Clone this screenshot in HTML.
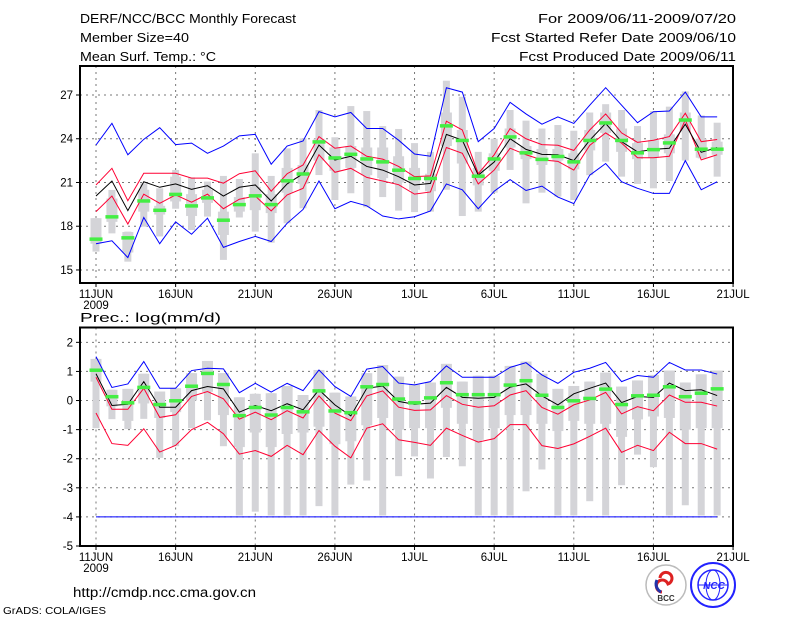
<!DOCTYPE html>
<html><head><meta charset="utf-8"><style>
html,body{margin:0;padding:0;background:#fff;}
svg{display:block;font-family:"Liberation Sans",sans-serif;}
</style></head><body>
<svg id="chart" width="800" height="618" viewBox="0 0 800 618" xmlns="http://www.w3.org/2000/svg">
<g font-size="12.5" fill="#000">
<text x="80" y="23" textLength="216" lengthAdjust="spacingAndGlyphs">DERF/NCC/BCC Monthly Forecast</text>
<text x="80" y="42" textLength="109" lengthAdjust="spacingAndGlyphs">Member Size=40</text>
<text x="80" y="61" textLength="136" lengthAdjust="spacingAndGlyphs">Mean Surf. Temp.: °C</text>
<text x="736" y="23" text-anchor="end" textLength="198" lengthAdjust="spacingAndGlyphs">For 2009/06/11-2009/07/20</text>
<text x="736" y="42" text-anchor="end" textLength="245" lengthAdjust="spacingAndGlyphs">Fcst Started Refer Date 2009/06/10</text>
<text x="736" y="61" text-anchor="end" textLength="217" lengthAdjust="spacingAndGlyphs">Fcst Produced Date 2009/06/11</text>
</g>
<g id="top"></g>
<g id="bot"></g>
<text x="80" y="322" font-size="12.5" textLength="141" lengthAdjust="spacingAndGlyphs">Prec.: log(mm/d)</text>
<text x="73" y="597" font-size="13.5" textLength="183" lengthAdjust="spacingAndGlyphs">http://cmdp.ncc.cma.gov.cn</text>
<text x="3" y="614" font-size="10" textLength="103" lengthAdjust="spacingAndGlyphs">GrADS: COLA/IGES</text>
<g>
<circle cx="666" cy="585" r="20" fill="#fff" stroke="#bbb" stroke-width="1.5"/>
<path d="M660 578 a6 6 0 1 1 8 6 a6 6 0 1 0 -6 8" fill="none" stroke="#d22" stroke-width="3"/>
<path d="M657 580 a9 9 0 0 0 4 12" fill="none" stroke="#23a" stroke-width="3"/>
<text x="666" y="601" font-size="8" text-anchor="middle" font-weight="bold" fill="#333">BCC</text>
</g>
<g>
<circle cx="713" cy="585" r="22" fill="#fff" stroke="#22f" stroke-width="2"/>
<circle cx="713" cy="585" r="15" fill="none" stroke="#22f" stroke-width="1.5"/>
<ellipse cx="713" cy="585" rx="7" ry="15" fill="none" stroke="#22f" stroke-width="1"/>
<line x1="698" y1="585" x2="728" y2="585" stroke="#22f"/>
<text x="714" y="589" font-size="10" text-anchor="middle" font-style="italic" font-weight="bold" fill="#22f">NCC</text>
</g>
</svg>
<script>
// ---- shared categories ----
const dayLabels=["11JUN","16JUN","21JUN","26JUN","1JUL","6JUL","11JUL","16JUL","21JUL"];
// ---- temperature panel data ----
const tTicks=[15,18,21,24,27];
const tBlueHi=[23.57,25.06,22.9,23.96,24.76,23.6,23.7,23,23.5,24.2,24.3,22.25,23.5,23.85,25.86,25.5,25.8,24.7,24.7,23.9,22.95,22.8,27.5,27.2,23.8,24.7,26.5,25.7,25.0,25.5,25.05,26.3,27.5,26.3,25.1,25.85,25.9,27.2,25.5,25.5];
const tBlueLo=[16.8,17.0,15.85,18.6,16.8,18.3,17.45,18.55,16.55,16.95,17.3,16.95,18.2,19.15,21.1,19.2,19.7,19.4,18.7,18.5,18.65,19.05,20.9,20.5,19.2,20.4,21.2,20.45,20.75,20.0,19.55,21.5,22.3,21.05,20.6,20.25,20.25,22.5,20.5,21.05];
const tRedHi=[20.83,21.97,19.75,21.63,21.63,21.63,21.3,21.3,20.95,21.6,21.8,20.4,21.6,22.2,24.15,23.35,23.5,22.8,22.6,22.1,21.4,21.45,25.2,24.6,21.6,22.9,24.7,24.0,23.6,23.55,23.2,24.6,25.7,24.4,23.75,23.9,24.15,25.75,23.8,23.95];
const tRedLo=[19.0,20.07,18.15,20.2,19.57,20.15,19.65,20.2,19.2,19.85,20.07,19.05,20.15,20.6,22.9,21.7,21.97,21.35,21.1,20.85,20.2,20.35,23.4,23.0,20.9,21.85,23.35,22.9,22.55,22.45,21.85,23.55,24.4,23.7,22.7,22.7,22.8,25.3,22.55,22.9];
const tMean=[20.07,21.1,19.07,21.05,20.67,20.9,20.53,20.78,20.07,20.67,20.83,19.73,20.9,21.6,23.57,22.54,22.8,22.1,21.85,21.4,20.83,20.94,24.3,23.9,21.5,22.4,24.0,23.27,22.93,22.9,22.5,23.9,25.05,23.8,23.1,23.27,23.35,25.0,23.07,23.4];
const tGreen=[17.13,18.66,17.22,19.75,19.11,20.2,19.41,19.96,18.43,19.5,20.1,19.5,21.13,21.6,23.8,22.7,22.95,22.63,22.43,21.86,21.29,21.29,24.9,23.9,21.45,22.63,24.14,23.05,22.6,22.8,22.43,23.9,25.1,23.9,23.05,23.27,23.73,25.3,23.3,23.3];
const tWhiskHi=[18.55,20.49,17.63,20.94,20.6,21.86,21.35,21.06,21.45,21.24,23.0,21.45,23.34,24.03,25.97,24.1,26.24,25.9,24.87,24.67,23.7,23.1,27.98,26.88,23.1,24.0,25.97,25.24,24.7,24.94,24.55,25.8,26.37,25.97,24.87,25.9,26.2,27.25,25.6,25.1];
const tWhiskLo=[16.26,17.51,15.57,17.97,17.3,19.2,17.74,18.66,15.69,18.6,17.63,16.87,18.2,19.23,21.51,19.8,20.26,19.3,20.0,19.07,18.97,19.0,20.5,18.7,19.0,20.3,21.86,19.57,20.3,20.03,19.8,21.5,22.43,21.4,20.9,20.6,21.1,22.5,22.65,21.4];
const tBoxHi=[18.55,19.9,17.6,20.5,19.4,21.4,20.2,20.5,19.0,20.0,20.7,20.2,22.0,22.2,24.0,23.4,23.5,23.4,23.4,22.8,22.0,21.6,25.8,24.6,22.0,23.0,24.7,23.5,23.3,23.3,23.0,24.6,25.8,24.7,23.7,23.9,24.3,25.8,24.0,23.8];
const tBoxLo=[16.8,18.3,16.2,19.0,18.8,19.7,18.7,19.6,17.4,19.0,19.1,18.9,20.3,20.9,22.5,21.8,22.0,21.5,21.3,21.0,20.5,20.4,23.5,22.3,20.8,21.8,23.4,22.6,22.2,22.5,21.9,23.2,24.4,23.1,22.6,22.7,23.0,24.5,22.7,22.9];
// ---- precipitation panel data ----
const pTicks=[-5,-4,-3,-2,-1,0,1,2];
const pBlueHi=[1.51,0.45,0.57,1.34,0.42,0.42,1.03,1.11,1.09,0.27,0.59,0.29,0.59,0.34,1.05,0.48,0.14,1.08,1.17,0.6,0.54,0.65,1.19,0.8,0.8,0.8,1.14,1.3,0.88,0.59,0.97,1.11,1.31,0.65,0.86,0.8,1.31,1.05,1.05,0.91];
const pBlueLo=[-4,-4,-4,-4,-4,-4,-4,-4,-4,-4,-4,-4,-4,-4,-4,-4,-4,-4,-4,-4,-4,-4,-4,-4,-4,-4,-4,-4,-4,-4,-4,-4,-4,-4,-4,-4,-4,-4,-4,-4];
const pRedHi=[0.8,-0.3,-0.3,0.42,-0.58,-0.49,0.14,0.31,0.06,-0.64,-0.4,-0.66,-0.35,-0.6,0.16,-0.43,-0.69,0.16,0.33,-0.23,-0.34,-0.32,0.17,-0.13,-0.23,-0.18,0.19,0.34,-0.24,-0.47,-0.15,0.02,0.28,-0.46,-0.21,-0.35,0.19,-0.06,-0.06,-0.19];
const pRedLo=[-0.43,-1.48,-1.54,-0.97,-1.77,-1.54,-1.0,-0.75,-1.14,-1.84,-1.72,-1.92,-1.54,-1.86,-1.03,-1.57,-1.97,-0.95,-0.8,-1.35,-1.44,-1.54,-0.95,-1.2,-1.43,-1.31,-0.83,-0.83,-1.55,-1.65,-1.49,-1.23,-0.95,-1.78,-1.54,-1.72,-1.09,-1.48,-1.48,-1.67];
const pMean=[0.92,-0.17,-0.13,0.65,-0.23,-0.23,0.34,0.48,0.40,-0.40,-0.17,-0.35,-0.11,-0.32,0.37,-0.15,-0.53,0.42,0.5,-0.03,-0.13,-0.09,0.45,0.11,0.08,0.11,0.46,0.57,0.16,-0.15,0.23,0.42,0.6,-0.07,0.14,0.11,0.6,0.34,0.37,0.17];
const pGreen=[1.05,0.14,-0.07,0.46,-0.13,0.0,0.5,0.94,0.56,-0.51,-0.23,-0.49,-0.23,-0.38,0.34,-0.35,-0.41,0.48,0.56,0.06,-0.07,0.1,0.62,0.21,0.21,0.21,0.54,0.69,0.19,-0.23,0.0,0.08,0.4,-0.13,0.17,0.19,0.48,0.14,0.26,0.41];
const pWhiskHi=[1.43,0.37,0.4,0.92,0.31,0.42,0.94,1.36,0.94,0.11,0.23,0.25,0.5,0.19,1.05,0.27,0.14,0.94,1.22,0.82,0.54,0.62,1.26,0.65,0.85,0.85,1.19,1.34,0.92,0.4,0.5,0.65,0.96,0.48,0.69,0.88,1.03,0.62,0.9,1.03];
const pWhiskLo=[-0.95,-0.64,-0.98,-0.63,-1.97,-1.57,-0.95,-0.68,-1.57,-3.95,-3.82,-3.95,-3.95,-3.95,-3.63,-3.95,-2.89,-2.75,-3.95,-2.6,-1.92,-2.68,-1.94,-2.26,-3.95,-3.95,-3.95,-3.12,-2.37,-3.95,-3.95,-3.46,-3.95,-2.91,-1.86,-2.29,-3.95,-3.6,-3.95,-3.95];
const pBoxHi=[1.43,0.37,0.4,0.92,0.31,0.42,0.94,1.36,0.94,0.11,0.23,0.25,0.5,0.19,1.05,0.27,0.14,0.94,1.22,0.82,0.54,0.62,1.26,0.65,0.85,0.85,1.19,1.34,0.92,0.4,0.5,0.65,0.96,0.48,0.69,0.88,1.03,0.62,0.9,1.03];
const pBoxLo=[0.65,-0.2,-0.7,-0.1,-0.6,-0.4,0,0.3,-0.5,-1.6,-1.1,-1.6,-1.15,-1.1,-0.9,-1.5,-1.4,-0.85,-0.6,-1.0,-0.95,-0.95,-0.25,-0.8,-1.35,-0.95,-0.5,-0.5,-0.8,-1.05,-0.7,-0.8,-0.8,-1.25,-0.65,-0.55,-0.6,-1.0,-0.95,-0.95];

const NS="http://www.w3.org/2000/svg";
function mk(tag,attrs,parent){const e=document.createElementNS(NS,tag);for(const k in attrs)e.setAttribute(k,attrs[k]);parent.appendChild(e);return e;}
const X0=80,X1=733,DPX=(X1-X0)/41;
const xs=d=>96+d*DPX;

function panel(g,top,bot,vTop,vBot,ticks,D){
  const ys=v=>top+(vTop-v)/(vTop-vBot)*(bot-top);
  for(let i=0;i<=8;i++){const x=xs(i*5);
    const l=mk('line',{x1:x,x2:x,y1:top,y2:bot,stroke:'#777','stroke-dasharray':'2,4','stroke-width':1},g);
    
    
    const t=mk('text',{x:x,y:bot+15,'font-size':11.5,'text-anchor':'middle'},g);
    t.textContent=dayLabels[i];
    
    
    mk('line',{x1:x,x2:x,y1:bot,y2:bot+4,stroke:'#000'},g);
  }
  const yr=mk('text',{x:96,y:bot+26,'font-size':11.5,'text-anchor':'middle'},g);yr.textContent='2009';
  
  
  ticks.forEach(v=>{const y=ys(v);
    if(y>top+2&&y<bot-2){const l=mk('line',{x1:X0,x2:X1,y1:y,y2:y,stroke:'#777','stroke-dasharray':'2,4'},g);
      
      }
    mk('line',{x1:X0-4,x2:X0,y1:y,y2:y,stroke:'#000'},g);
    const t=mk('text',{x:X0-7,y:y+4,'font-size':11.5,'text-anchor':'end'},g);t.textContent=String(v);
    
    
  });
  D.wHi.forEach((_,d)=>{const x=xs(d);
    const w=mk('rect',{x:x-3.5,y:ys(D.wHi[d]),width:7,height:ys(D.wLo[d])-ys(D.wHi[d]),fill:'#d4d4d8'},g);
    
    
    const b=mk('rect',{x:x-5.5,y:ys(D.bHi[d]),width:11,height:ys(D.bLo[d])-ys(D.bHi[d]),fill:'#d4d4d8'},g);
    
    
  });
  const line=(arr,col,name)=>{const p=mk('polyline',{points:arr.map((v,d)=>xs(d)+','+ys(v)).join(' '),fill:'none',stroke:col,'stroke-width':1},g);
    
    };
  line(D.bHiL,'#0000ff','upper-blue-line');line(D.bLoL,'#0000ff','lower-blue-line');
  line(D.rHi,'#ff0033','upper-red-line');line(D.rLo,'#ff0033','lower-red-line');
  line(D.mean,'#000','ensemble-mean-line');
  D.green.forEach((v,d)=>{const r=mk('rect',{x:xs(d)-6.5,y:ys(v)-1.5,width:13,height:3.5,fill:'#44ee44'},g);
    
    });
  const f=mk('rect',{x:X0,y:top,width:X1-X0,height:bot-top,fill:'none',stroke:'#000','stroke-width':2},g);
  
  
}
panel(document.getElementById('top'),66,283,27+29/14.58,27-188/14.58,tTicks,
 {wHi:tWhiskHi,wLo:tWhiskLo,bHi:tBoxHi,bLo:tBoxLo,bHiL:tBlueHi,bLoL:tBlueLo,rHi:tRedHi,rLo:tRedLo,mean:tMean,green:tGreen});
panel(document.getElementById('bot'),327.5,546,2.51,-5,pTicks,
 {wHi:pWhiskHi,wLo:pWhiskLo,bHi:pBoxHi,bLo:pBoxLo,bHiL:pBlueHi,bLoL:pBlueLo,rHi:pRedHi,rLo:pRedLo,mean:pMean,green:pGreen});
</script>
</body></html>
